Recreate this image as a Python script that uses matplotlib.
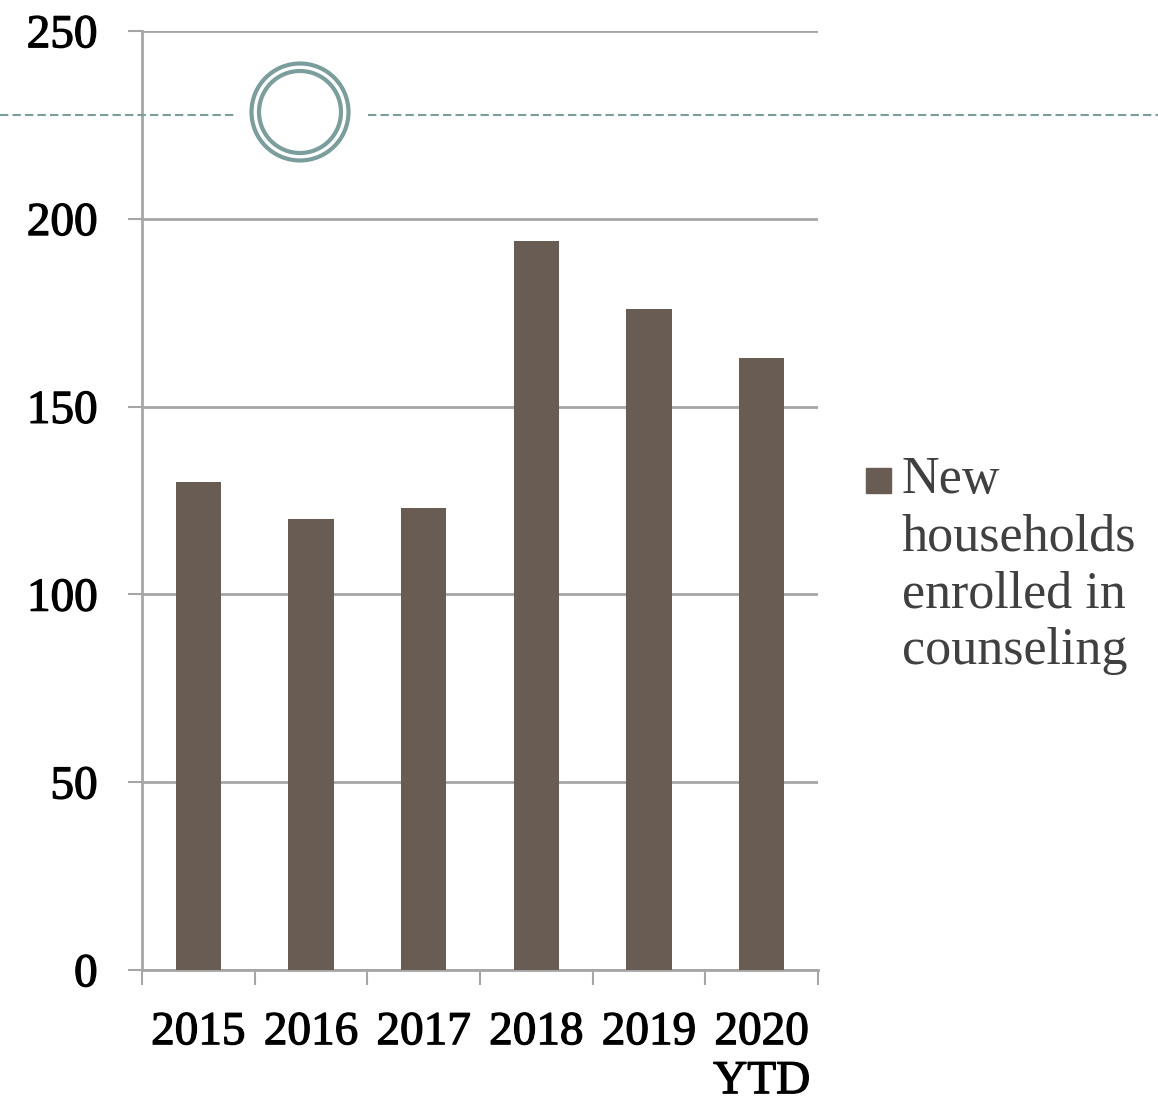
import matplotlib
matplotlib.use("Agg")
import matplotlib.pyplot as plt
import matplotlib.patheffects as pe
from matplotlib.lines import Line2D
from matplotlib.patches import Circle
import numpy as np

categories = ["2015", "2016", "2017", "2018", "2019", "2020\nYTD"]
values = [130, 120, 123, 194, 176, 163]
series_name = "New\nhouseholds\nenrolled in\ncounseling"
y_ticks = [0, 50, 100, 150, 200, 250]

BAR = "#695D53"
GRID = "#A6A6A6"
DECO = "#7A9E9C"
SERIF = ["Liberation Serif", "DejaVu Serif"]
THICK = [pe.withStroke(linewidth=0.9, foreground="black")]

W, H = 1158, 1101
fig = plt.figure(figsize=(W / 100, H / 100), dpi=100)
ax = fig.add_axes([142 / W, 131 / H, 676 / W, 939 / H])

x = np.arange(len(categories))
ax.bar(x, values, width=0.4, color=BAR, zorder=3)

ax.set_xlim(-0.5, len(categories) - 0.5)
ax.set_ylim(0, 250)
ax.set_yticks(y_ticks)
ax.set_yticklabels([str(t) for t in y_ticks], fontfamily=SERIF, fontsize=34, color="black")
ax.yaxis.grid(True, color=GRID, linewidth=2, zorder=0)
ax.tick_params(axis="y", length=10, width=1.5, color=GRID, pad=22)

ax.set_xticks(np.arange(-0.5, len(categories), 1.0))
ax.set_xticklabels([])
ax.set_xticks(x, minor=True)
ax.set_xticklabels(categories, minor=True, fontfamily=SERIF, fontsize=34,
                   color="black", linespacing=1.2)
ax.tick_params(axis="x", which="major", length=11, width=1.5, color=GRID)
ax.tick_params(axis="x", which="minor", length=0, pad=30)

for lbl in ax.get_yticklabels() + ax.get_xticklabels(minor=True):
    lbl.set_path_effects(THICK)

for s in ["top", "right"]:
    ax.spines[s].set_visible(False)
for s in ["left", "bottom"]:
    ax.spines[s].set_color(GRID)
    ax.spines[s].set_linewidth(2)

# legend: square swatch + series name
ax.plot([1.089], [0.522], marker="s", markersize=18, color=BAR, linestyle="none",
        transform=ax.transAxes, clip_on=False)
ax.text(1.124, 0.547, series_name, transform=ax.transAxes, ha="left", va="top",
        fontfamily=SERIF, fontsize=37.5, color="#404040", linespacing=1.24)

# decorative dashed rule and double ring
yd = 1 - 115 / H
fig.add_artist(Line2D([0, 235 / W], [yd, yd], transform=fig.transFigure, color=DECO,
                      linewidth=1.5, linestyle=(0, (4, 2)), zorder=5))
fig.add_artist(Line2D([368 / W, 1], [yd, yd], transform=fig.transFigure, color=DECO,
                      linewidth=1.5, linestyle=(0, (4, 2)), zorder=5))
for r in (48.5, 41):
    fig.add_artist(Circle((300, H - 112), r, transform=None, fill=False,
                          edgecolor=DECO, linewidth=3, zorder=5))

fig.savefig("out.png", dpi=100)
